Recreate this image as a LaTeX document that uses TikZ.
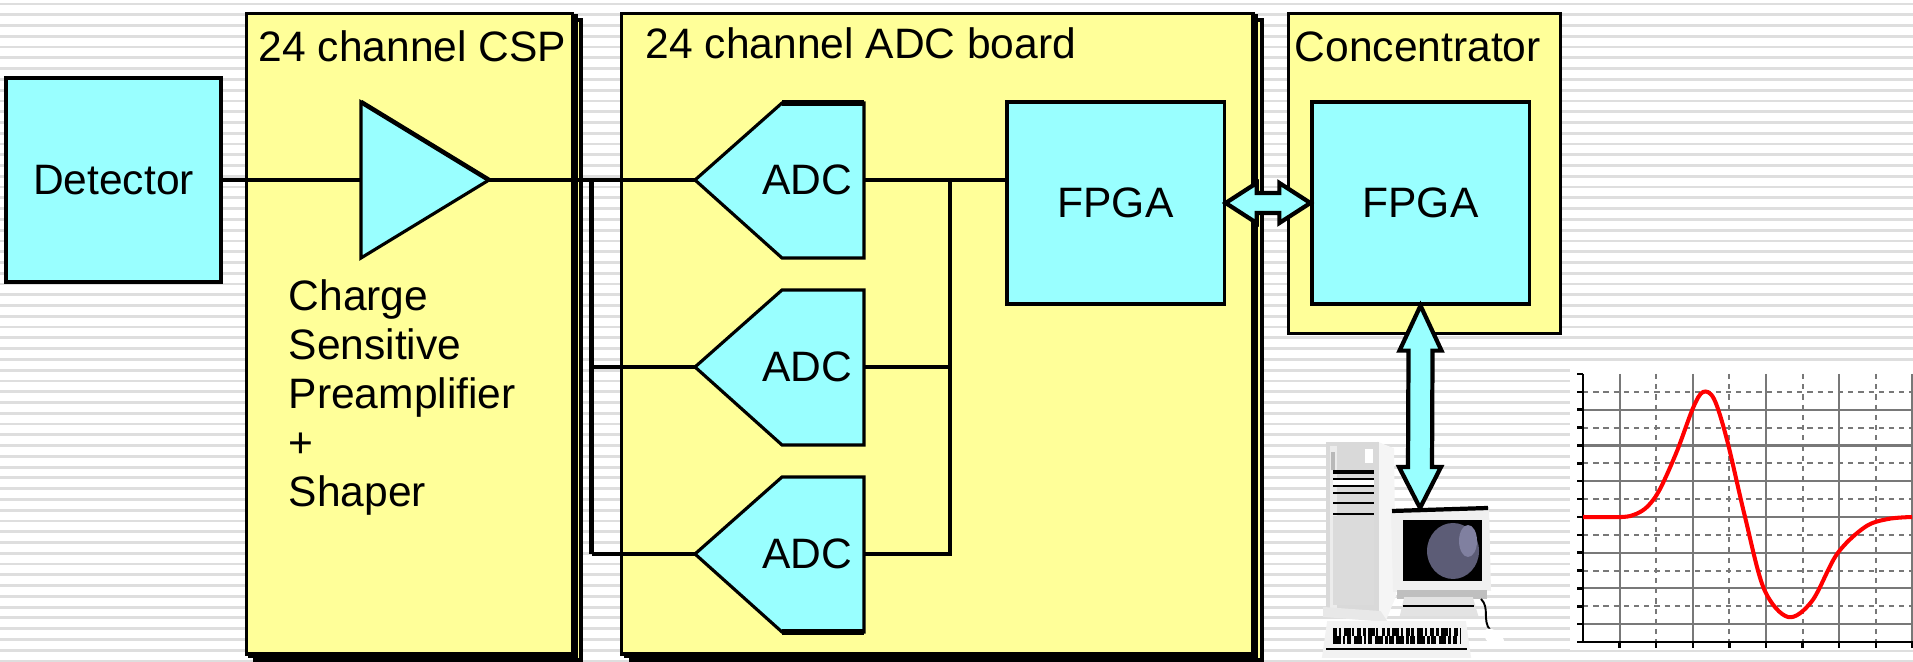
\documentclass[tikz,border=0pt]{standalone}
\usepackage{fontspec}
\setmainfont{Liberation Sans}
\usetikzlibrary{calc}
\definecolor{boardyellow}{RGB}{255,255,153}
\definecolor{chipcyan}{RGB}{153,255,255}
\definecolor{stripegray}{RGB}{222,222,222}
\definecolor{gridgray}{RGB}{120,120,120}
\definecolor{crtglass}{RGB}{92,92,118}
\definecolor{crtshine}{RGB}{128,128,160}

\begin{document}
\begin{tikzpicture}[x=0.01cm, y=-0.01cm, line join=miter,
  wire/.style={line width=0.9pt},
  bus/.style={line width=1.5pt},
  board/.style={draw, fill=boardyellow, line width=0.9pt},
  chip/.style={draw, fill=chipcyan, line width=0.9pt, inner sep=0pt},
  lbl/.style={font=\fontsize{12.1}{13.94}\selectfont, inner sep=0pt},
  fatarrow/.style={draw, fill=chipcyan, line width=1.2pt, line join=miter},
  gridsolid/.style={draw=gridgray, line width=0.6pt},
  griddash/.style={draw=gridgray, line width=0.6pt, dash pattern=on 1.5pt off 1.4pt},
  curve/.style={draw=red, line width=1.15pt, line join=round},
  outline/.style={draw, line width=0.55pt},
]
\useasboundingbox (0,0) rectangle (1913,662);

% striped backdrop
\fill[white] (0,0) rectangle (1913,662);
\foreach \k in {0,...,61}
  \draw[stripegray, line width=0.8pt] (0,{4+10.77*\k}) -- (1913,{4+10.77*\k});

% ---------------- CSP board (stacked cards) ----------------
\draw[board] (255,20) rectangle (581,660);
\draw[board] (250,16) rectangle (576,656);
\node[board, anchor=north west, minimum width=3.26cm, minimum height=6.40cm, inner sep=0pt] (csp) at (245,12) {};
\node[lbl, anchor=base west] (csptitle) at (258,62) {24 channel CSP};
\node[lbl, anchor=base west, align=left] (cspnote) at (288,507)
  {Charge\\Sensitive\\Preamplifier\\+\\Shaper};

% ---------------- ADC board (stacked cards) ----------------
\draw[board] (631,20) rectangle (1262,660);
\draw[board] (626,16) rectangle (1256,656);
\node[board, anchor=north west, minimum width=6.31cm, minimum height=6.40cm, inner sep=0pt] (adcboard) at (620,12) {};
\node[lbl, anchor=base west] (adctitle) at (645,59) {24 channel ADC board};

% ---------------- Concentrator ----------------
\node[board, anchor=north west, minimum width=2.72cm, minimum height=3.20cm, inner sep=0pt] (conc) at (1287,12) {};
\node[lbl, anchor=base west] (conctitle) at (1294,62) {Concentrator};

% ---------------- Detector ----------------
\node[chip, lbl, minimum width=2.15cm, minimum height=2.04cm] (det) at (113.5,180) {Detector};

% ---------------- shaping amplifier ----------------
\coordinate (ampin) at (361,180);
\coordinate (ampout) at (489,180);
\draw[chip] (361,102) -- (ampout) -- (361,258) -- cycle;
\draw[line width=1.3pt] (361,102) -- (ampout);

% ---------------- ADCs ----------------
\foreach \i/\yc in {1/180, 2/367, 3/554} {
  \coordinate (adc\i) at (695,\yc);
  \coordinate (adc\i out) at (864,\yc);
  \draw[chip] (adc\i) -- ++(87,-77) -- ++(82,0) -- ++(0,155) -- ++(-82,0) -- cycle;
  \node[lbl] (adc\i lbl) at (807,\yc) {ADC};
}
\draw[line width=1.5pt] (782,103) -- (864,103);
\draw[line width=1.5pt] (782,632) -- (864,632);

% ---------------- FPGAs ----------------
\node[chip, lbl, minimum width=2.17cm, minimum height=2.02cm] (fpga) at (1115.5,203) {FPGA};
\node[chip, lbl, minimum width=2.17cm, minimum height=2.02cm] (cfpga) at (1420.5,203) {FPGA};

% ---------------- signal wiring ----------------
\coordinate (splitTop) at (591.5,180);
\coordinate (splitBot) at (591.5,554);
\coordinate (mergeTop) at (950,180);
\draw[wire] (det.east) -- (ampin);
\draw[wire] (ampout) -- (adc1);
\draw[bus] (splitTop) -- (splitBot);
\draw[wire] (adc2 -| splitTop) -- (adc2);
\draw[wire] (splitBot) -- (adc3);
\draw[wire] (adc1out) -- (adc1out -| fpga.west);
\draw[wire] (adc2out) -| (mergeTop);
\draw[wire] (adc3out) -| (mergeTop);

% ---------------- board-to-concentrator link ----------------
\draw[fatarrow] (fpga.east) -- ++(31,-20) -- ++(0,10) -- ($(cfpga.west)+(-31,-10)$)
  -- ++(0,-10) -- (cfpga.west) -- ++(-31,20) -- ++(0,-10) -- ($(fpga.east)+(31,10)$)
  -- ++(0,10) -- cycle;

% ---------------- computer ----------------
\coordinate (pc) at (1420,508);
% tower
\fill[gray!8, outline] (1378,443) -- (1393,449) -- (1395,596) -- (1385,620) -- (1378,612) -- cycle;
\fill[gray!30, outline] (1327,443) rectangle (1378,612);
\fill[gray!15] (1330,446) rectangle (1337,608);
\draw[line width=0.9pt] (1333,472) -- (1374,472);
\fill[white] (1333,480) rectangle (1374,485);
\draw[line width=0.5pt] (1333,479) -- (1374,479) (1333,486) -- (1374,486);
\draw[line width=0.7pt] (1333,493) -- (1374,493) (1333,503) -- (1374,503) (1333,514) -- (1374,514);
\fill[gray!28, outline] (1334,517) rectangle (1373,604);
\fill[white, outline] (1366,450) rectangle (1372,462);
\fill[gray!55] (1331,452) rectangle (1335,470);
\fill[gray!18, outline] (1324,608) -- (1380,612) -- (1386,621) -- (1324,616) -- cycle;
% monitor
\fill[gray!12, outline] (1392,511) -- (1488,508) -- (1490,590) -- (1394,591) -- cycle;
\draw[line width=1.2pt] (1392,511) -- (1488,508);
\fill[black] (1403,520) rectangle (1482,581);
\begin{scope}
  \clip (1403,520) rectangle (1482,581);
  \fill[crtglass] (1453,551) ellipse [x radius=26, y radius=28];
  \fill[crtshine] (1468,541) ellipse [x radius=9, y radius=16];
\end{scope}
\fill[gray!50, outline] (1398,591) rectangle (1486,598);
\fill[gray!22, outline] (1405,598) -- (1472,598) -- (1477,615) -- (1401,615) -- cycle;
\draw[line width=0.5pt] (1403,606) -- (1474,606);
% keyboard
\fill[gray!10, outline] (1328,622) -- (1465,622) -- (1470,657) -- (1323,657) -- cycle;
\draw[line width=2pt, dash pattern=on 1.1pt off 0.5pt on 0.8pt off 0.7pt on 1.9pt off 0.4pt on 0.6pt off 0.9pt]
  (1333,632) -- (1460,632);
\draw[line width=2pt, dash pattern=on 2.2pt off 0.6pt on 0.7pt off 0.5pt on 1.2pt off 0.8pt]
  (1333,640) -- (1460,640);
\draw[line width=0.5pt] (1326,649) -- (1467,649);
% mouse
\draw[line width=0.55pt] (1481,599) .. controls (1490,608) and (1482,620) .. (1490,630);
\fill[white, outline, rotate around={-40:(1494,638)}] (1494,638) ellipse [x radius=11, y radius=6];

% ---------------- concentrator-to-computer link ----------------
\draw[fatarrow] (cfpga.south) -- ++(21,45) -- ++(-9,0) -- ($(pc)+(12,-41)$) -- ++(9,0)
  -- (pc) -- ++(-21,-41) -- ++(9,0) -- ($(cfpga.south)+(-12,45)$) -- ++(-9,0) -- cycle;

% ---------------- shaper output trace ----------------
\fill[white] (1570,368) rectangle (1913,650);
\foreach \k in {2,4,...,14}
  \draw[gridsolid] (1583,{374+17.87*\k}) -- (1913,{374+17.87*\k});
\foreach \k in {1,3,...,13}
  \draw[griddash] (1583,{374+17.87*\k}) -- (1913,{374+17.87*\k});
\foreach \m in {1,3,5,7,9}
  \draw[gridsolid] ({1583+36.6*\m},374) -- ({1583+36.6*\m},642);
\foreach \m in {2,4,6,8}
  \draw[griddash] ({1583+36.6*\m},374) -- ({1583+36.6*\m},642);
\foreach \k in {0,...,15}
  \draw[line width=0.7pt] (1577,{374+17.87*\k}) -- (1583,{374+17.87*\k});
\foreach \m in {1,...,9}
  \draw[line width=0.7pt] ({1583+36.6*\m},642) -- ({1583+36.6*\m},648);
\draw[line width=0.7pt] (1583,374) -- (1583,642) -- (1913,642);
\draw[curve] plot[smooth, tension=0.55] coordinates {
  (1583,517) (1622,517) (1636,514) (1648,506) (1660,489) (1677,451) (1693,408)
  (1703,392) (1714,399) (1727,440) (1745,517) (1764,589) (1788,617) (1812,601)
  (1837,554) (1865,527) (1888,519) (1912,517)};
\end{tikzpicture}
\end{document}
